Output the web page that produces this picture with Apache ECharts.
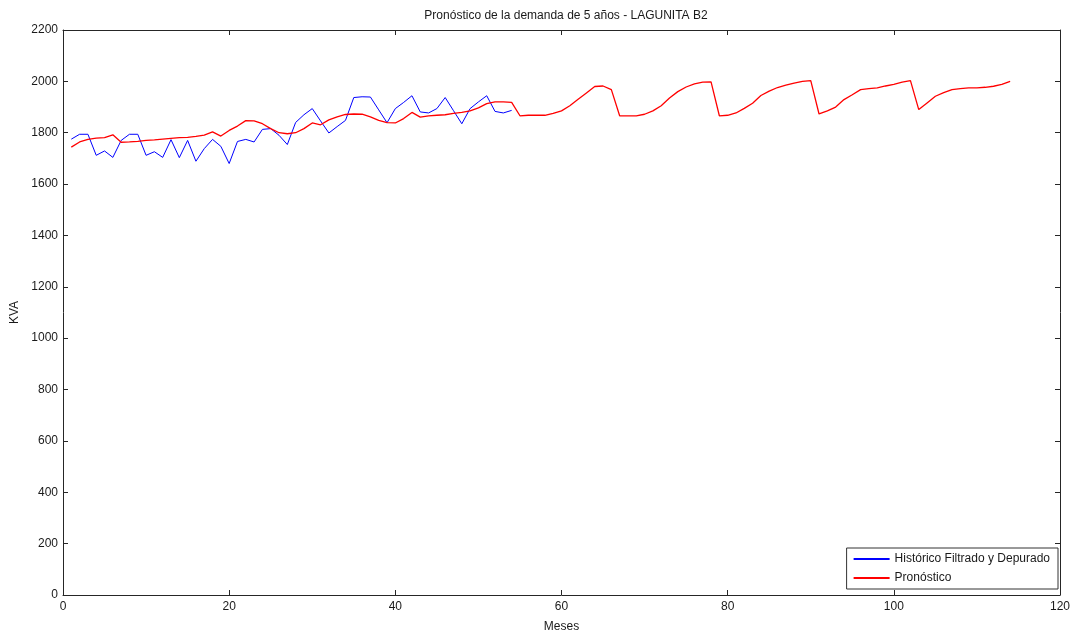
<!DOCTYPE html>
<html>
<head>
<meta charset="utf-8">
<script src="https://cdn.jsdelivr.net/npm/echarts@6/dist/echarts.min.js"></script>
<style>html,body{margin:0;padding:0;background:#fff}#c{width:1078px;height:635px}</style>
</head>
<body>
<div id="c"></div>
<script>
var histMonths = [];
for (var i = 1; i <= 54; i++) histMonths.push(i);
var histValues = [1775,1794,1794,1712,1729,1704,1770,1794,1794,1712,
  1726,1704,1773,1703,1770,1689,1738,1774,1747,1680,
  1766,1774,1764,1813,1816,1790,1754,1840,1870,1894,
  1846,1799,1824,1848,1937,1940,1939,1889,1839,1894,
  1918,1944,1881,1877,1894,1937,1886,1835,1894,1920,
  1944,1883,1877,1887];
var fcMonths = [];
for (var j = 1; j <= 114; j++) fcMonths.push(j);
var fcValues = [1744,1764,1774,1779,1781,1792,1763,1764,1766,1770,
  1772,1775,1778,1781,1782,1786,1791,1803,1787,1809,
  1826,1847,1846,1835,1816,1800,1796,1800,1816,1838,
  1831,1850,1862,1871,1873,1872,1862,1848,1839,1838,
  1855,1879,1861,1866,1868,1870,1875,1879,1885,1897,
  1913,1920,1920,1918,1866,1868,1868,1868,1875,1885,
  1905,1930,1955,1980,1982,1968,1866,1866,1866,1872,
  1885,1905,1935,1960,1978,1990,1997,1998,1866,1868,
  1877,1895,1915,1945,1962,1976,1985,1993,2000,2003,
  1873,1885,1900,1929,1948,1968,1972,1975,1982,1988,
  1997,2003,1890,1916,1942,1956,1968,1972,1975,1975,
  1977,1981,1988,2000];
var seriesNames = ['Histórico Filtrado y Depurado', 'Pronóstico'];
var titleText = 'Pronóstico de la demanda de 5 años - LAGUNITA B2';

function pairs(xs, ys) { return xs.map(function (x, k) { return [x, ys[k]]; }); }

var font = 'Liberation Sans, Arial, sans-serif';
var axisColor = '#262626';
var chart = echarts.init(document.getElementById('c'));
function plain(v) { return String(v); }
function xAx(pos, show) {
  return {
    type: 'value', position: pos, min: 0, max: 120, interval: 20,
    axisLine: { show: true, onZero: false, lineStyle: { color: axisColor, width: 1 } },
    axisTick: { show: true, inside: true, length: 5, lineStyle: { color: axisColor } },
    axisLabel: { show: show, color: '#1a1a1a', fontSize: 12, fontFamily: font, margin: 6, formatter: plain },
    splitLine: { show: false },
    name: show ? 'Meses' : '', nameLocation: 'middle', nameGap: 26,
    nameTextStyle: { color: '#1a1a1a', fontSize: 12, fontFamily: font }
  };
}
function yAx(pos, show) {
  return {
    type: 'value', position: pos, min: 0, max: 2200, interval: 200,
    axisLine: { show: true, onZero: false, lineStyle: { color: axisColor, width: 1 } },
    axisTick: { show: true, inside: true, length: 5, lineStyle: { color: axisColor } },
    axisLabel: { show: show, color: '#1a1a1a', fontSize: 12, fontFamily: font, margin: 5, formatter: plain },
    splitLine: { show: false },
    name: show ? 'KVA' : '', nameLocation: 'middle', nameGap: 39,
    nameTextStyle: { color: '#1a1a1a', fontSize: 12, fontFamily: font }
  };
}
chart.setOption({
  animation: false,
  backgroundColor: '#fff',
  title: {
    text: titleText, left: 561, top: 5, textAlign: 'center',
    textStyle: { fontSize: 12, fontWeight: 'normal', color: '#1a1a1a', fontFamily: font }
  },
  grid: { left: 63, right: 18, top: 30, bottom: 40, containLabel: false, outerBoundsMode: 'none' },
  xAxis: [xAx('bottom', true), xAx('top', false)],
  yAxis: [yAx('left', true), yAx('right', false)],
  legend: {
    data: seriesNames, orient: 'vertical', right: 20, bottom: 46,
    backgroundColor: '#fff', borderColor: '#333', borderWidth: 1, borderRadius: 0,
    padding: [5, 8, 5, 7], itemGap: 7, itemWidth: 36, itemHeight: 2, icon: 'rect',
    textStyle: { fontSize: 12, color: '#1a1a1a', fontFamily: font, padding: [0, 0, 0, 0] }
  },
  series: [
    { name: seriesNames[0], type: 'line', data: pairs(histMonths, histValues),
      showSymbol: false, symbol: 'none', color: '#0000ff',
      lineStyle: { color: '#0000ff', width: 1 } },
    { name: seriesNames[1], type: 'line', data: pairs(fcMonths, fcValues),
      showSymbol: false, symbol: 'none', color: '#ff0000',
      lineStyle: { color: '#ff0000', width: 1.3 } }
  ]
});
</script>
</body>
</html>
